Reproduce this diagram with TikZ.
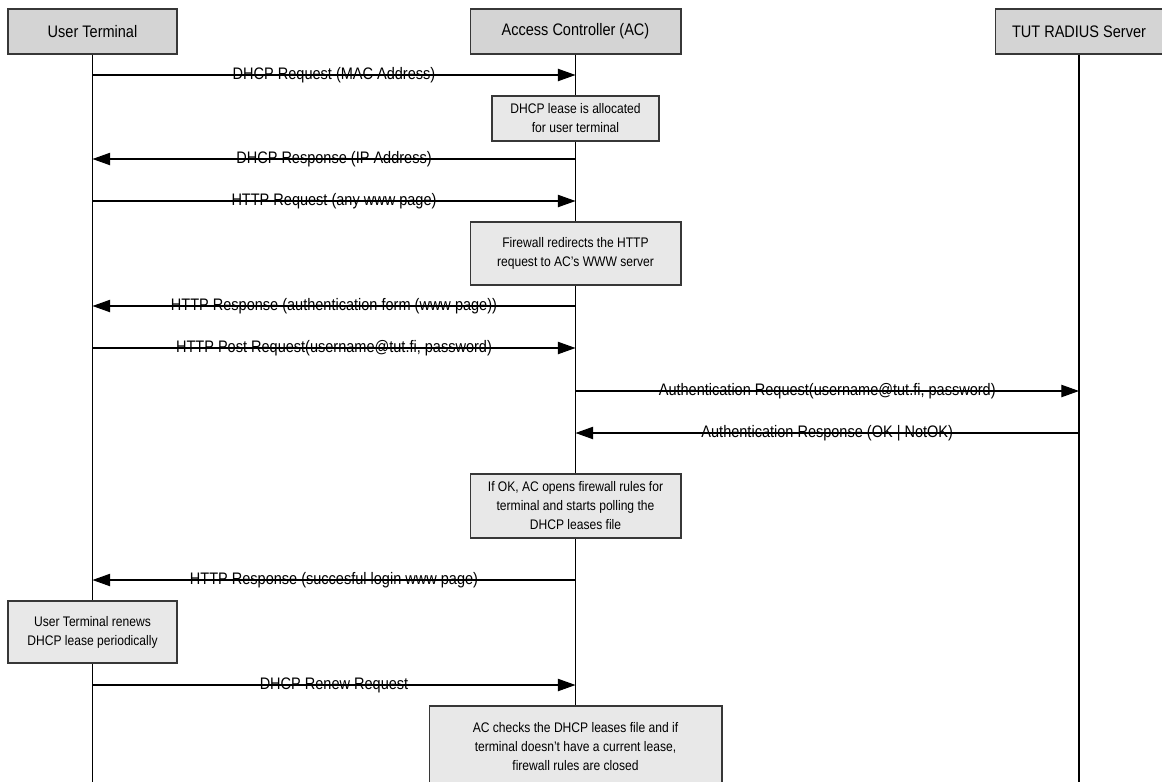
\documentclass[tikz,border=0pt]{standalone}
\usepackage{fontspec}
\setmainfont{Liberation Sans}[FakeStretch=0.87]
\usetikzlibrary{arrows.meta, positioning}
\definecolor{headgray}{RGB}{212,212,212}
\definecolor{notegray}{RGB}{232,232,232}
\definecolor{boxline}{RGB}{55,55,55}
\tikzset{
  actor/.style={draw=boxline, fill=headgray, line width=0.6pt, minimum height=0.9cm, inner sep=0pt,
    font=\fontsize{9.5}{10.8}\selectfont},
  note/.style={draw=boxline, fill=notegray, line width=0.6pt, align=center, inner sep=0pt,
    font=\fontsize{7.9}{10.8}\selectfont},
  msg/.style={-{Triangle[length=10pt, width=7pt]}, line width=0.6pt},
  lifeline/.style={line width=0.6pt},
  msglabel/.style={font=\fontsize{9.5}{10.8}\selectfont, inner sep=0pt}
}

\begin{document}
\begin{tikzpicture}[x=0.02cm, y=-0.02cm]
  \useasboundingbox (0,0) rectangle (1162,781);

  % participants
  \node[actor, minimum width=3.38cm] (ut) at (92.5,31.5) {User Terminal};
  \node[actor, minimum width=4.22cm] (ac) at (575.5,31.5) {Access Controller (AC)};
  \node[actor, minimum width=3.36cm] (rs) at (1079,31.5) {TUT RADIUS Server};

  % lifelines
  \coordinate (bottom) at (0,790);
  \draw[lifeline] (ut) -- (ut |- bottom);
  \draw[lifeline] (ac) -- (ac |- bottom);
  \draw[lifeline] (rs) -- (rs |- bottom);

  % message rows
  \coordinate (r1) at (0,75);
  \coordinate (r2) at (0,159);
  \coordinate (r3) at (0,201);
  \coordinate (r4) at (0,306);
  \coordinate (r5) at (0,348);
  \coordinate (r6) at (0,391);
  \coordinate (r7) at (0,433);
  \coordinate (r8) at (0,580);
  \coordinate (r9) at (0,685);

  \draw[msg] (ut |- r1) -- node[msglabel] {DHCP Request (MAC Address)} (ac |- r1);
  \node[note, minimum width=3.34cm, minimum height=0.9cm] (lease) at (575.5,118.5)
    {DHCP lease is allocated\\for user terminal};
  \draw[msg] (ac |- r2) -- node[msglabel] {DHCP Response (IP Address)} (ut |- r2);
  \draw[msg] (ut |- r3) -- node[msglabel] {HTTP Request (any www page)} (ac |- r3);
  \node[note, minimum width=4.22cm, minimum height=1.26cm] (redirect) at (575.5,253.5)
    {Firewall redirects the HTTP\\request to AC's WWW server};
  \draw[msg] (ac |- r4) -- node[msglabel] {HTTP Response (authentication form (www page))} (ut |- r4);
  \draw[msg] (ut |- r5) -- node[msglabel] {HTTP Post Request(username@tut.fi, password)} (ac |- r5);
  \draw[msg] (ac |- r6) -- node[msglabel] {Authentication Request(username@tut.fi, password)} (rs |- r6);
  \draw[msg] (rs |- r7) -- node[msglabel] {Authentication Response (OK | NotOK)} (ac |- r7);
  \node[note, minimum width=4.22cm, minimum height=1.28cm] (opens) at (575.5,506)
    {If OK, AC opens firewall rules for\\terminal and starts polling the\\DHCP leases file};
  \draw[msg] (ac |- r8) -- node[msglabel] {HTTP Response (succesful login www page)} (ut |- r8);
  \node[note, minimum width=3.38cm, minimum height=1.24cm] (renews) at (92.5,632)
    {User Terminal renews\\DHCP lease periodically};
  \draw[msg] (ut |- r9) -- node[msglabel] {DHCP Renew Request} (ac |- r9);
  \node[note, minimum width=5.86cm, minimum height=1.64cm] (checks) at (575.5,747)
    {AC checks the DHCP leases file and if\\terminal doesn't have a current lease,\\firewall rules are closed};
\end{tikzpicture}
\end{document}
